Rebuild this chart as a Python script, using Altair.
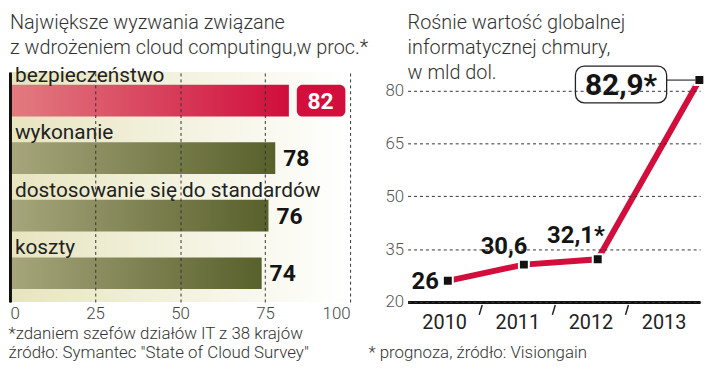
import altair as alt
import pandas as pd

# ---------------- data: left panel ----------------
challenges = ["bezpieczeństwo", "wykonanie", "dostosowanie się do standardów", "koszty"]
challenge_pct = [82, 78, 76, 74]
pct_ticks = [0, 25, 50, 75, 100]
left_title = ["Największe wyzwania związane", "z wdrożeniem cloud computingu,w proc.*"]
left_notes = ["*zdaniem szefów działów IT z 38 krajów",
              "źródło: Symantec \"State of Cloud Survey\""]

# ---------------- data: right panel ----------------
years = [2010, 2011, 2012, 2013]
cloud_value = [26, 30.6, 32.1, 82.9]
value_labels = ["26", "30,6", "32,1*", "82,9*"]
point_year_pos = [2010.55, 2011.59, 2012.6, 2013.99]  # where each point sits along the year axis
area_end_pos = 2013.52                               # where the shaded area meets the baseline
value_ticks = [20, 35, 50, 65, 80]
right_title = ["Rośnie wartość globalnej", "informatycznej chmury,", "w mld dol."]
right_note = "* prognoza, źródło: Visiongain"

LIGHT = "Roboto"
BOLD = "Roboto"
RED = "#d20f3c"

W1, W2, H = 343, 295, 232

one = pd.DataFrame({"k": [0]})

# ================= left panel =================
left_df = pd.DataFrame({
    "cat": challenges,
    "pct": challenge_pct,
    "label": [str(v) for v in challenge_pct],
    "rank": list(range(len(challenges))),
})

xs = alt.X("pct:Q",
           scale=alt.Scale(domain=[0, 100], nice=False),
           axis=alt.Axis(values=pct_ticks, ticks=False, domain=False, grid=True,
                         gridDash=[3, 3], gridColor="#333", gridWidth=1,
                         labelFont=LIGHT, labelFontSize=17, labelFontWeight=300,
                         labelColor="#444", labelPadding=4,
                         title=left_notes,
                         titleAnchor="start", titleAlign="left", titleX=-2, titleY=37,
                         titleBaseline="alphabetic", titleFont=LIGHT, titleFontSize=17,
                         titleFontWeight=300, titleColor="#333", titleLineHeight=19,
                         zindex=1))
ys = alt.Y("cat:N", sort=challenges,
           scale=alt.Scale(paddingInner=0, paddingOuter=0),
           axis=alt.Axis(labels=False, ticks=False, title=None, grid=False,
                         domain=True, domainColor="#111", domainWidth=3, zindex=1))

red_grad = alt.LinearGradient(gradient="linear",
                              stops=[alt.GradientStop(color="#e27c81", offset=0),
                                     alt.GradientStop(color="#d00d3c", offset=1)],
                              x1=0, x2=1, y1=0, y2=0)
green_grad = alt.LinearGradient(gradient="linear",
                                stops=[alt.GradientStop(color="#a7a67c", offset=0),
                                       alt.GradientStop(color="#58602b", offset=1)],
                                x1=0, x2=1, y1=0, y2=0)
cream_grad = alt.LinearGradient(gradient="linear",
                                stops=[alt.GradientStop(color="#e7e5bf", offset=0),
                                       alt.GradientStop(color="#ffffff", offset=1)],
                                x1=0, x2=1, y1=0, y2=0)

lbase = alt.Chart(left_df)
backdrop = alt.Chart(one).mark_rect(color=cream_grad).encode(
    x=alt.datum(pct_ticks[0]), x2=alt.datum(pct_ticks[-1]),
    y=alt.value(0), y2=alt.value(H))
red_bar = lbase.transform_filter("datum.rank == 0").mark_bar(size=32, color=red_grad).encode(x=xs, y=ys)
green_bar = lbase.transform_filter("datum.rank > 0").mark_bar(size=32, color=green_grad).encode(x=xs, y=ys)
cat_text = lbase.mark_text(align="left", baseline="alphabetic", dx=5, dy=-19,
                           font=LIGHT, fontSize=21, color="#222").encode(
    x=alt.datum(0), y=ys, text="cat:N")
val_text = lbase.transform_filter("datum.rank > 0").mark_text(
    align="left", baseline="middle", dx=8, dy=1, font=BOLD, fontSize=23,
    fontWeight="bold", color="#141414").encode(x=xs, y=ys, text="label:N")
red_box = lbase.transform_filter("datum.rank == 0").mark_bar(
    size=32, color=RED, xOffset=8, x2Offset=57, cornerRadius=6).encode(
    x=xs, x2="pct:Q", y=ys)
red_val = lbase.transform_filter("datum.rank == 0").mark_text(
    align="center", baseline="middle", dx=32, dy=1, font=BOLD, fontSize=23,
    fontWeight="bold", color="white").encode(x=xs, y=ys, text="label:N")
ltitle = alt.Chart(one).mark_text(
    text=left_title, align="left", baseline="alphabetic", lineHeight=25,
    font=LIGHT, fontSize=20, fontWeight=300, color="#333").encode(
    x=alt.value(0), y=alt.value(-43))

left = alt.layer(backdrop, red_bar, green_bar, cat_text, val_text, red_box, red_val,
                 ltitle).properties(width=W1, height=H)

# ================= right panel =================
n = len(years)
line_df = pd.DataFrame({
    "pos": point_year_pos, "v": cloud_value, "label": value_labels,
    "i": list(range(n)),
})
area_df = pd.DataFrame({
    "pos": point_year_pos + [area_end_pos],
    "v": cloud_value + [value_ticks[0]],
    "i": list(range(n + 1)),
})
tick_df = pd.DataFrame({"b": years[1:]})

xscale = alt.Scale(domain=[years[0], years[-1] + 1], nice=False, zero=False)
xr = alt.X("pos:Q", scale=xscale,
           axis=alt.Axis(values=[y + 0.5 for y in years], labelExpr="floor(datum.value)",
                         ticks=False, grid=False, domainColor="#111", domainWidth=3,
                         labelFont=LIGHT, labelFontSize=20, labelColor="#222",
                         labelPadding=11,
                         title=right_note,
                         titleAnchor="start", titleAlign="left", titleX=-40, titleY=56,
                         titleBaseline="alphabetic", titleFont=LIGHT, titleFontSize=17,
                         titleFontWeight=300, titleColor="#333"))
yr = alt.Y("v:Q",
           scale=alt.Scale(domain=[20, 85.2], nice=False, zero=False),
           axis=alt.Axis(values=value_ticks, domain=False, ticks=False, grid=True,
                         gridDash=[3, 3], gridColor="#333", gridWidth=1,
                         labelFont=LIGHT, labelFontSize=17, labelFontWeight=300,
                         labelColor="#555", labelPadding=4, title=None, zindex=1))

area_grad = alt.LinearGradient(gradient="linear",
                               stops=[alt.GradientStop(color="#f3f4e2", offset=0),
                                      alt.GradientStop(color="#bec684", offset=1)],
                               x1=0, x2=0, y1=0, y2=1)

area = alt.Chart(area_df).mark_area(color=area_grad).encode(
    x=xr, y=yr, y2=alt.datum(value_ticks[0]), order="i:Q")
line = alt.Chart(line_df).mark_line(color=RED, strokeWidth=6).encode(x=xr, y=yr, order="i:Q")
pts = alt.Chart(line_df).mark_square(size=100, color="#111", stroke="white",
                                     strokeWidth=2, opacity=1).encode(x=xr, y=yr)
ticks = alt.Chart(tick_df).mark_rule(color="#222", strokeWidth=1.5,
                                     xOffset=1.5, x2Offset=-1.5).encode(
    x=alt.X("b:Q", scale=xscale), x2="b:Q", y=alt.value(H + 3), y2=alt.value(H + 13))

lab_style = dict(font=BOLD, fontSize=24, fontWeight="bold", color="#141414", baseline="middle")
lbl0 = alt.Chart(line_df).transform_filter("datum.i == 0").mark_text(
    align="right", dx=-9, dy=1, **lab_style).encode(x=xr, y=yr, text="label:N")
lbl1 = alt.Chart(line_df).transform_filter("datum.i == 1").mark_text(
    align="center", dx=-20, dy=-18, **lab_style).encode(x=xr, y=yr, text="label:N")
lbl2 = alt.Chart(line_df).transform_filter("datum.i == 2").mark_text(
    align="center", dx=-22, dy=-23, **lab_style).encode(x=xr, y=yr, text="label:N")
box3 = alt.Chart(line_df).transform_filter("datum.i == 3").mark_rect(
    fill="white", stroke="#222", strokeWidth=1.3, cornerRadius=9,
    xOffset=-125, x2Offset=-33, yOffset=-14, y2Offset=23).encode(
    x=xr, x2="pos:Q", y=yr, y2="v:Q")
conn3 = alt.Chart(line_df).transform_filter("datum.i == 3").mark_rule(
    color="#333", strokeWidth=1.2, xOffset=-33, x2Offset=-4).encode(
    x=xr, x2="pos:Q", y=yr)
lbl3 = alt.Chart(line_df).transform_filter("datum.i == 3").mark_text(
    align="center", dx=-79, dy=6, font=BOLD, fontSize=30, fontWeight="bold",
    color="#141414", baseline="middle").encode(x=xr, y=yr, text="label:N")
rtitle = alt.Chart(one).mark_text(
    text=right_title, align="left", baseline="alphabetic", lineHeight=25,
    font=LIGHT, fontSize=20, fontWeight=300, color="#333").encode(
    x=alt.value(0), y=alt.value(-43))

right = alt.layer(area, line, pts, ticks, lbl0, lbl1, lbl2, conn3, box3, lbl3,
                  rtitle).properties(width=W2, height=H)

chart = alt.hconcat(left, right, spacing=58, bounds="flush").properties(
    padding={"top": 4, "left": 0, "right": 0, "bottom": 0}).configure_view(stroke=None)

chart.save("out.html", embed_options={"renderer": "svg", "actions": False})
